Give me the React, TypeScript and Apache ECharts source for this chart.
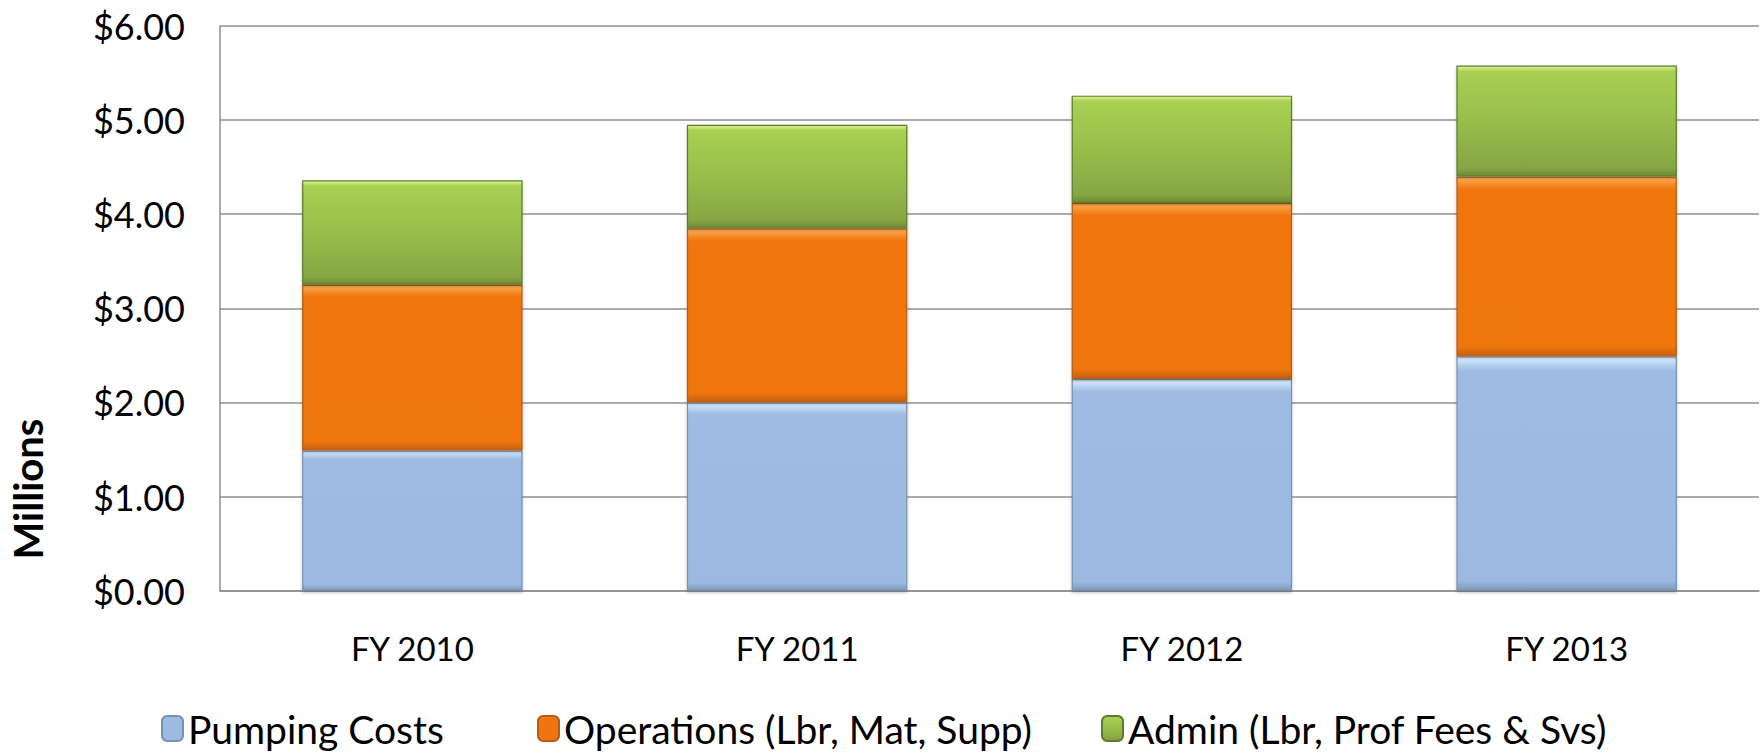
import React, { useEffect, useRef } from "react";
import * as echarts from "echarts";

const categories = ["FY 2010", "FY 2011", "FY 2012", "FY 2013"];
const pumpingCosts = [1.49, 2.0, 2.25, 2.49];
const operations = [1.76, 1.85, 1.87, 1.91];
const admin = [1.11, 1.1, 1.14, 1.18];
const seriesNames = [
  "Pumping Costs",
  "Operations (Lbr, Mat, Supp)",
  "Admin (Lbr, Prof Fees & Svs)",
];
const yMin = 0;
const yMax = 6;
const yInterval = 1;
const unitLabel = "Millions";

const FONT = "Lato, 'Open Sans', sans-serif";

function grad(stops: [number, string][]) {
  return new echarts.graphic.LinearGradient(
    0,
    0,
    0,
    1,
    stops.map(([offset, color]) => ({ offset, color }))
  );
}

export default function App() {
  const ref = useRef<HTMLDivElement>(null);
  useEffect(() => {
    if (!ref.current) return;
    const chart = echarts.init(ref.current, undefined, { renderer: "svg" });
    const blue = grad([
      [0, "#E2F4FF"],
      [0.035, "#B4D0F0"],
      [0.06, "#9EBCE2"],
      [0.96, "#9CB9DF"],
      [1, "#8199BD"],
    ]);
    const orange = grad([
      [0, "#FFB45A"],
      [0.04, "#F68C2A"],
      [0.07, "#F07511"],
      [0.95, "#EF7411"],
      [1, "#C4600E"],
    ]);
    const green = grad([
      [0, "#DDF590"],
      [0.05, "#A8D052"],
      [0.5, "#98BE4A"],
      [0.93, "#87A543"],
      [1, "#6E8A35"],
    ]);
    const mk = (name: string, data: number[], color: any, border: string) => ({
      name,
      type: "bar",
      stack: "total",
      data,
      barWidth: "57.3%",
      itemStyle: {
        color,
        borderColor: border,
        borderWidth: 1.2,
        shadowColor: "rgba(0,0,0,0.25)",
        shadowBlur: 3,
        shadowOffsetY: 2,
      },
    });
    const legendCommon = {
      top: 709,
      padding: 0,
      itemWidth: 21,
      itemHeight: 25,
      itemGap: 10,
      textStyle: {
        fontFamily: FONT,
        fontSize: 39,
        color: "#000",
        padding: [0, 0, 14, 0],
      },
    };
    chart.setOption({
      animation: false,
      grid: { left: 220, right: 3, top: 26, bottom: 162.3, containLabel: false },
      legend: [
        { ...legendCommon, left: 161, data: [seriesNames[0]] },
        { ...legendCommon, left: 537, data: [seriesNames[1]] },
        { ...legendCommon, left: 1101, data: [seriesNames[2]] },
      ],
      xAxis: {
        type: "category",
        data: categories,
        axisLine: { show: true, lineStyle: { color: "#8F8F8F", width: 1.5 } },
        axisTick: { show: false },
        axisLabel: {
          fontFamily: FONT,
          fontSize: 33,
          color: "#000",
          margin: 41,
        },
      },
      yAxis: {
        type: "value",
        min: yMin,
        max: yMax,
        interval: yInterval,
        axisLine: { show: true, lineStyle: { color: "#8F8F8F", width: 1.5 } },
        axisTick: { show: false },
        splitLine: { show: true, lineStyle: { color: "#8F8F8F", width: 1.5 } },
        axisLabel: {
          fontFamily: FONT,
          fontSize: 36,
          color: "#000",
          margin: 35,
          formatter: (v: number) => "$" + v.toFixed(2),
        },
      },
      graphic: [
        {
          type: "text",
          x: 28,
          y: 489,
          rotation: Math.PI / 2,
          style: {
            text: unitLabel,
            fill: "#000",
            font: "bold 40px " + FONT,
            textAlign: "center",
            textVerticalAlign: "middle",
          },
        },
      ],
      series: [
        mk(seriesNames[0], pumpingCosts, blue, "#7890B2"),
        mk(seriesNames[1], operations, orange, "#B85C10"),
        mk(seriesNames[2], admin, green, "#5E7A2E"),
      ],
    });
    return () => chart.dispose();
  }, []);
  return (
    <div
      ref={ref}
      style={{ position: "fixed", left: 0, top: 0, width: 1762, height: 753, background: "#fff" }}
    />
  );
}
